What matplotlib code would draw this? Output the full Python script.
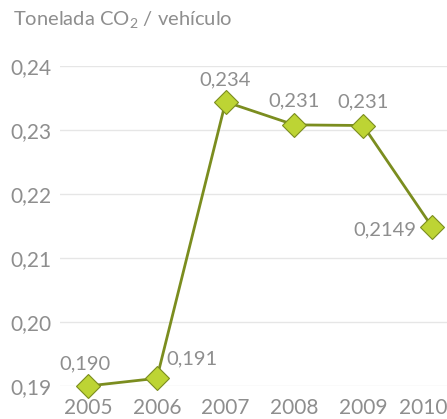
import matplotlib
matplotlib.use("Agg")
import matplotlib.pyplot as plt
import matplotlib.transforms as mtransforms

years = [2005, 2006, 2007, 2008, 2009, 2010]
values = [0.1900, 0.1912, 0.2344, 0.2308, 0.2307, 0.2149]
labels = ["0,190", "0,191", "0,234", "0,231", "0,231", "0,2149"]
yticks = [0.19, 0.20, 0.21, 0.22, 0.23, 0.24]
ytick_labels = ["0,19", "0,20", "0,21", "0,22", "0,23", "0,24"]

plt.rcParams['font.family'] = ['Lato', 'DejaVu Sans']
plt.rcParams['mathtext.fontset'] = 'custom'
plt.rcParams['mathtext.rm'] = 'Lato'

grey = '#8e8e8e'
line_col = '#7b8d1f'
fill_col = '#bdd434'

fig = plt.figure(figsize=(4.47, 4.19), dpi=100)
ax = fig.add_axes([0.134, 0.0788, 0.866, 0.7637])

ax.plot(years, values, color=line_col, lw=2, marker='D', ms=12,
        mfc=fill_col, mec=line_col, mew=0.8, clip_on=False, zorder=3)

# label offsets in points (dx, dy, ha)
offs = [(-2, 10, 'center'), (7, 8, 'left'), (0, 10, 'center'),
        (0, 11, 'center'), (0, 11, 'center'), (-11, -2, 'right')]
for x, y, t, (dx, dy, ha) in zip(years, values, labels, offs):
    va = 'bottom' if dy > 0 else 'center'
    ax.annotate(t, (x, y), xytext=(dx, dy), textcoords='offset points',
                ha=ha, va=va, fontsize=14.5, color=grey)

ax.set_xlim(2004.59, 2010.22)
ax.set_ylim(0.19, 0.24)
ax.set_yticks(yticks)
ax.set_yticklabels(ytick_labels)
ax.set_xticks(years)
ax.set_xticklabels([str(y) for y in years])
ax.tick_params(length=0, labelsize=15, colors=grey)
ax.tick_params(axis='y', pad=6)
ax.tick_params(axis='x', pad=9)
ax.grid(axis='y', color='#e6e6e6', lw=1)
ax.set_axisbelow(True)
for s in ax.spines.values():
    s.set_visible(False)

# nudge last year label left so it stays inside the figure
last = ax.get_xticklabels()[-1]
last.set_transform(last.get_transform() +
                   mtransforms.ScaledTranslation(-6 / 72, 0, fig.dpi_scale_trans))

fig.text(0.03, 0.952, "Tonelada CO$_2$ / vehículo", fontsize=14.5, color=grey,
         ha='left', va='center')

fig.savefig("out.png", dpi=100)
